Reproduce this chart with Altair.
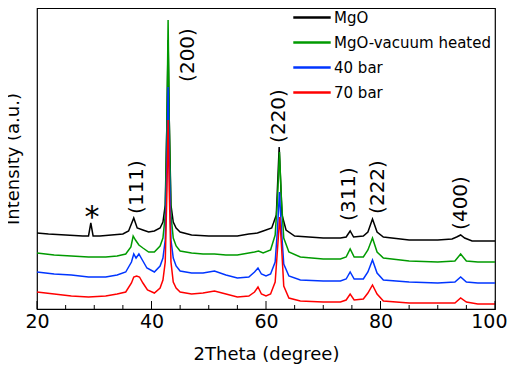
import altair as alt
import pandas as pd

series_names = ["MgO", "MgO-vacuum heated", "40 bar", "70 bar"]
series_colors = ["#000000", "#009a00", "#0035ff", "#ff0000"]

mgo_x = [20, 22, 25, 28, 29.0, 29.4, 29.8, 31, 33, 35, 36.0, 36.9, 37.5, 38.5, 39.5, 40.5, 41.5,
         42.0, 42.4, 42.7, 42.9, 43.1, 43.4, 43.8, 44.3, 45, 47, 50, 53, 55, 57, 58.5, 59.5, 61,
         61.8, 62.3, 62.8, 63.5, 65, 70, 73, 74.0, 74.7, 75.3, 77.0, 77.8, 78.6, 79.4, 80.5, 85,
         90, 92.5, 93.3, 94.0, 94.7, 96, 100]
mgo_y = [76, 75, 74, 73, 73, 86, 73, 73, 74, 75, 78, 91, 81, 79, 77, 78, 81,
         87, 104, 189, 269, 189, 104, 87, 81, 77, 74, 73, 73, 73, 75, 76, 78, 81,
         94, 162, 94, 79, 73, 71, 71, 72, 78, 72, 73, 77, 90, 77, 72, 69,
         69, 70, 72, 74, 71, 68, 68]

vac_x = [20, 23, 26, 29, 32, 34, 35.5, 36.4, 36.8, 37.2, 37.8, 38.5, 39.5, 40.5, 41.5, 42.0, 42.4,
         42.7, 42.9, 43.1, 43.4, 43.8, 44.3, 45, 47, 49, 51, 53, 55, 57, 58.0, 58.7, 59.5, 60.8,
         61.6, 62.0, 62.35, 62.7, 63.1, 64, 66, 70, 73, 74.0, 74.7, 75.4, 77.0, 77.8, 78.6, 79.4,
         80.5, 85, 90, 93, 94.0, 95, 97, 100]
vac_y = [56, 54, 53, 52, 52, 53, 55, 62, 73, 69, 64, 61, 57, 57, 63, 71, 94,
         189, 289, 189, 94, 71, 63, 58, 56, 55, 55, 54, 54, 56, 57, 58, 56, 59,
         74, 109, 157, 109, 71, 57, 52, 50, 50, 52, 60, 52, 52, 59, 71, 57,
         51, 48, 47, 48, 55, 48, 47, 47]

b40_x = [20, 23, 26, 29, 32, 34, 35.5, 36.5, 36.9, 37.3, 37.8, 38.4, 39.2, 40.5, 41.5, 42.0, 42.4,
         42.7, 42.9, 43.1, 43.4, 43.8, 44.3, 45, 47, 49, 51, 53, 55, 57, 58.0, 58.6, 59.2, 60.0,
         60.8, 61.6, 62.0, 62.35, 62.7, 63.1, 64, 66, 70, 73, 74.0, 74.7, 75.4, 77.0, 77.8, 78.6,
         79.4, 80.5, 85, 90, 93, 94.0, 95, 97, 100]
b40_y = [37, 35, 34, 32, 32, 34, 37, 47, 55, 51, 55, 49, 41, 37, 43, 51, 69,
         149, 222, 149, 69, 51, 43, 38, 36, 36, 38, 34, 31, 32, 37, 41, 35, 33,
         35, 47, 79, 117, 79, 45, 33, 29, 28, 28, 30, 37, 30, 30, 37, 49,
         36, 29, 27, 26, 27, 32, 27, 26, 26]

b70_x = [20, 23, 26, 29, 32, 34, 35.5, 36.5, 36.9, 37.4, 37.9, 38.5, 39.3, 40.5, 41.5, 42.0, 42.4,
         42.7, 42.9, 43.1, 43.4, 43.8, 44.3, 45, 47, 49, 51, 53, 55, 57, 58.0, 58.6, 59.2, 60.0,
         60.8, 61.6, 62.0, 62.4, 62.75, 63.1, 64, 66, 70, 73, 74.0, 74.7, 75.4, 77.0, 77.8, 78.6,
         79.4, 80.5, 85, 90, 93, 94.0, 95, 97, 100]
b70_y = [17, 15, 13, 12, 13, 15, 17, 26, 32, 33, 32, 26, 19, 16, 21, 29, 47,
         119, 189, 119, 47, 27, 21, 17, 15, 16, 18, 15, 12, 13, 17, 22, 15, 13,
         15, 27, 59, 92, 59, 23, 11, 8, 7, 7, 9, 15, 9, 10, 16, 24,
         15, 8, 6, 6, 6, 11, 7, 5, 5]

peak_labels = ["(111)", "(200)", "(220)", "(311)", "(222)", "(400)"]
peak_x = [37.5, 46.4, 62.3, 74.5, 79.6, 94.1]
peak_y = [122, 254, 193, 115, 122, 106]

star_label = ["*"]
star_x = [29.6]
star_y = [82]

major_ticks = [20, 40, 60, 80, 100]
minor_ticks = [25, 30, 35, 45, 50, 55, 65, 70, 75, 85, 90, 95]

FONT = "DejaVu Sans"

x_scale = alt.Scale(domain=[20, 100], nice=False)
y_scale = alt.Scale(domain=[0, 301], nice=False, zero=False)
color_scale = alt.Scale(domain=series_names, range=series_colors)

x_axis = alt.Axis(values=major_ticks, ticks=False, grid=False, domain=False,
                  labelFontSize=19, labelFont=FONT, labelColor="black", labelPadding=3,
                  labelFlush=True, labelFlushOffset=12,
                  title="2Theta (degree)", titleFontSize=18, titleFont=FONT,
                  titleFontWeight="normal", titleColor="black", titlePadding=14)
y_axis = alt.Axis(labels=False, ticks=False, grid=False, domain=False,
                  title="Intensity (a.u.)", titleFontSize=18, titleFont=FONT,
                  titleFontWeight="normal", titleColor="black", titlePadding=15)

legend = alt.Legend(title=None, orient="none", legendX=255, legendY=0,
                    symbolType="stroke", symbolSize=1400, symbolStrokeWidth=2.5,
                    labelFontSize=15, labelFont=FONT, labelColor="black",
                    clipHeight=19, rowPadding=6, labelOffset=2)

X = lambda field: alt.X(field, type="quantitative", scale=x_scale, axis=x_axis)
Y = lambda field: alt.Y(field, type="quantitative", scale=y_scale, axis=y_axis)

layers = []
for name, xs, ys in zip(series_names, [mgo_x, vac_x, b40_x, b70_x],
                        [mgo_y, vac_y, b40_y, b70_y]):
    df = pd.DataFrame({"two_theta": xs, "intensity": ys, "series": name})
    layer = alt.Chart(df).mark_line(strokeWidth=1.5).encode(
        x=X("two_theta"),
        y=Y("intensity"),
        color=alt.Color("series:N", scale=color_scale, legend=legend),
    )
    layers.append(layer)

peaks_df = pd.DataFrame({"two_theta": peak_x, "intensity": peak_y, "label": peak_labels})
peak_text = alt.Chart(peaks_df).mark_text(angle=270, font=FONT, fontSize=20, color="black",
                                          align="center", baseline="middle").encode(
    x=X("two_theta"), y=Y("intensity"), text="label:N")

star_df = pd.DataFrame({"two_theta": star_x, "intensity": star_y, "label": star_label})
star_text = alt.Chart(star_df).mark_text(font=FONT, fontSize=30, color="black",
                                         align="center", baseline="alphabetic").encode(
    x=X("two_theta"), y=Y("intensity"), text="label:N")

major_df = pd.DataFrame({"two_theta": major_ticks})
minor_df = pd.DataFrame({"two_theta": minor_ticks})
major_rules = alt.Chart(major_df).mark_rule(color="black", strokeWidth=1).encode(
    x=X("two_theta"), y=alt.value(301), y2=alt.value(293))
minor_rules = alt.Chart(minor_df).mark_rule(color="black", strokeWidth=1).encode(
    x=X("two_theta"), y=alt.value(301), y2=alt.value(297))

chart = alt.layer(*layers, peak_text, star_text, major_rules, minor_rules).properties(
    width=458, height=301,
    autosize=alt.AutoSizeParams(type="none"),
    padding={"left": 29, "top": 0, "right": 13, "bottom": 56},
).configure_view(stroke="black", strokeWidth=1.2)

chart.save("out.html", embed_options={"renderer": "svg", "actions": False})
